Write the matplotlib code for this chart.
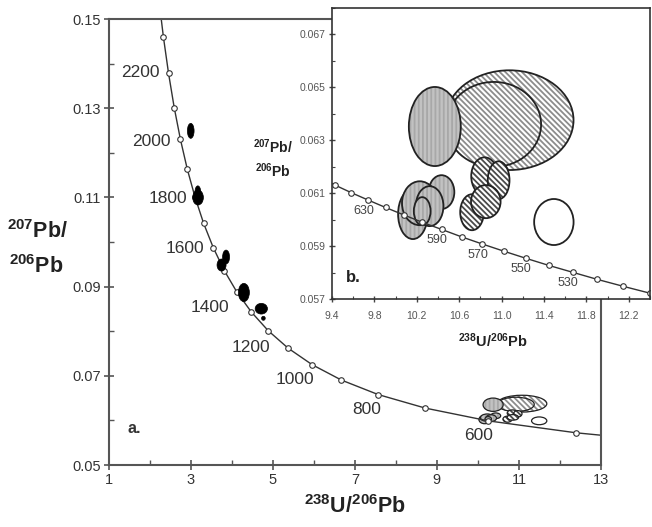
import numpy as np
import matplotlib

matplotlib.use("Agg")
import matplotlib.pyplot as plt
from matplotlib.patches import Ellipse
from matplotlib.ticker import FormatStrFormatter

plt.rcParams["font.family"] = ["Liberation Sans", "DejaVu Sans"]
plt.rcParams["mathtext.fontset"] = "custom"
plt.rcParams["mathtext.rm"] = "Liberation Sans"
plt.rcParams["mathtext.bf"] = "Liberation Sans:bold"
plt.rcParams["hatch.linewidth"] = 1.3

# concordia points (100 Ma steps)
main_ages = [450, 500, 600, 700, 800, 900, 1000, 1100, 1200, 1300, 1400,
             1500, 1600, 1700, 1800, 1900, 2000, 2100, 2200, 2300, 2400]
main_x = [13.831, 12.399, 10.252, 8.718, 7.568, 6.674, 5.959, 5.375, 4.888,
          4.476, 4.123, 3.817, 3.550, 3.314, 3.105, 2.917, 2.749, 2.597,
          2.459, 2.333, 2.217]
main_y = [0.05594, 0.05722, 0.05990, 0.06276, 0.06580, 0.06904, 0.07250,
          0.07619, 0.08012, 0.08432, 0.08881, 0.09360, 0.09872, 0.10419,
          0.11004, 0.11629, 0.12299, 0.13015, 0.13782, 0.14603, 0.15483]
main_label_ages = [600, 800, 1000, 1200, 1400, 1600, 1800, 2000, 2200]

# concordia points in the inset (10 Ma steps)
inset_ages = [490, 500, 510, 520, 530, 540, 550, 560, 570, 580, 590, 600,
              610, 620, 630, 640, 650, 660]
inset_x = [12.662, 12.399, 12.147, 11.904, 11.670, 11.445, 11.228, 11.019,
           10.817, 10.622, 10.434, 10.252, 10.076, 9.905, 9.741, 9.581,
           9.426, 9.276]
inset_y = [0.05696, 0.05722, 0.05748, 0.05774, 0.05801, 0.05827, 0.05854,
           0.05881, 0.05908, 0.05935, 0.05963, 0.05990, 0.06018, 0.06046,
           0.06074, 0.06102, 0.06131, 0.06159]
inset_label_ages = [630, 590, 570, 550, 530]

# old (black) analyses
old_x = [3.000, 3.178, 3.173, 3.751, 3.861, 4.295, 4.720, 4.771]
old_y = [0.12493, 0.10998, 0.11121, 0.09484, 0.09664, 0.08868, 0.08505, 0.0829]
old_w = [0.163, 0.26, 0.14, 0.22, 0.17, 0.268, 0.30, 0.09]
old_h = [0.00336, 0.00336, 0.00276, 0.0027, 0.0031, 0.0041, 0.0024, 0.0009]

# young analyses (shown in both panels)
young_x = [11.074, 10.926, 10.370, 10.839, 10.972, 10.721, 10.851,
           10.163, 10.433, 10.228, 10.321, 10.251, 11.493]
young_y = [0.06376, 0.06360, 0.06352, 0.06164, 0.06149, 0.06028, 0.06068,
           0.06021, 0.06104, 0.06062, 0.06051, 0.06032, 0.05991]
young_w = [1.209, 0.893, 0.490, 0.251, 0.205, 0.223, 0.279,
           0.279, 0.242, 0.335, 0.260, 0.158, 0.372]
young_h = [0.00377, 0.00321, 0.00299, 0.00143, 0.00143, 0.00136, 0.00125,
           0.00189, 0.00128, 0.00166, 0.00151, 0.00106, 0.00174]
young_type = ["light", "light", "grey", "dark", "dark", "dark", "dark",
              "grey", "grey", "grey", "grey", "grey", "open"]

main_offsets = {600: (-10, 15), 800: (-11, 15), 1000: (-17, 15),
                1200: (-17, 17), 1400: (-27, 16), 1600: (-28, 1),
                1800: (-27, 1), 2000: (-29, 2), 2200: (-28, -1)}


def draw_young(ax, lw):
    for x, y, w, h, t in zip(young_x, young_y, young_w, young_h, young_type):
        if t == "light":
            ax.add_patch(Ellipse((x, y), w, h, facecolor="white",
                                 edgecolor="#8c8c8c", hatch="\\" * 6, lw=0))
        elif t == "dark":
            ax.add_patch(Ellipse((x, y), w, h, facecolor="white",
                                 edgecolor="#4a4a4a", hatch="\\" * 6, lw=0))
        elif t == "grey":
            ax.add_patch(Ellipse((x, y), w, h, facecolor="#c2c2c2",
                                 edgecolor="#a8a8a8", hatch="||||", lw=0))
        else:
            ax.add_patch(Ellipse((x, y), w, h, facecolor="white", lw=0))
        ax.add_patch(Ellipse((x, y), w, h, fill=False, edgecolor="#222222",
                             lw=lw))


fig = plt.figure(figsize=(6.52, 5.27), dpi=100)

# ---- main panel
ax = fig.add_axes([0.1667, 0.1176, 0.7551, 0.8463])
ax.set_xlim(1, 13)
ax.set_ylim(0.05, 0.15)
ax.plot(main_x, main_y, color="#333333", lw=1.0, marker="o", ms=4,
        mfc="white", mec="#333333", mew=0.8, zorder=2)
for age in main_label_ages:
    i = main_ages.index(age)
    dx, dy = main_offsets[age]
    ax.annotate(str(age), (main_x[i], main_y[i]), xytext=(dx, -dy),
                textcoords="offset pixels", ha="center", va="center",
                fontsize=12.5, color="#333333")
for x, y, w, h in zip(old_x, old_y, old_w, old_h):
    ax.add_patch(Ellipse((x, y), w, h, facecolor="black", edgecolor="black",
                         lw=0.5, zorder=3))
draw_young(ax, 0.9)
ax.text(1.45, 0.0583, "a.", fontsize=11.5, fontweight="bold", va="center",
        color="#333333")

ax.set_xticks(np.arange(1, 14, 2))
ax.set_xticks(np.arange(2, 13, 2), minor=True)
ax.set_yticks(np.arange(0.05, 0.151, 0.02))
ax.set_yticks(np.arange(0.06, 0.141, 0.02), minor=True)
ax.yaxis.set_major_formatter(FormatStrFormatter("%.2f"))
ax.tick_params(which="major", direction="inout", length=7, width=1.2,
               labelsize=10.5, labelcolor="#333333", color="#555555", pad=2)
ax.tick_params(which="minor", direction="in", length=3.5, width=1.0,
               color="#555555")
for s in ax.spines.values():
    s.set_color("#555555")
    s.set_linewidth(1.5)

fig.text(0.057, 0.5484, r"$\mathbf{{}^{207}Pb/}$", fontsize=15.5,
         ha="center", va="baseline", color="#222222")
fig.text(0.055, 0.482, r"$\mathbf{{}^{206}Pb}$", fontsize=15.5,
         ha="center", va="baseline", color="#222222")
fig.text(0.5445, 0.027, r"$\mathbf{{}^{238}U/{}^{206}Pb}$", fontsize=15.5,
         ha="center", va="baseline", color="#222222")

# ---- inset
ax2 = fig.add_axes([332 / 652, 228 / 527, 318 / 652, 291 / 527])
ax2.set_facecolor("white")
ax2.set_xlim(9.4, 12.4)
ax2.set_ylim(0.057, 0.068)
ax2.plot(inset_x, inset_y, color="#333333", lw=1.0, marker="o", ms=4,
         mfc="white", mec="#333333", mew=0.8, zorder=2)
for age in inset_label_ages:
    i = inset_ages.index(age)
    ax2.annotate(str(age), (inset_x[i], inset_y[i]), xytext=(-4.5, -11),
                 textcoords="offset pixels", ha="center", va="center",
                 fontsize=9, color="#444444")
draw_young(ax2, 1.3)
ax2.text(9.535, 0.0578, "b.", fontsize=12, fontweight="bold", va="center",
         color="#222222")

ax2.set_xticks(np.arange(9.4, 12.3, 0.4))
ax2.set_xticks(np.arange(9.6, 12.4, 0.4), minor=True)
ax2.set_yticks(np.arange(0.057, 0.0675, 0.002))
ax2.set_yticks(np.arange(0.058, 0.0685, 0.002), minor=True)
ax2.xaxis.set_major_formatter(FormatStrFormatter("%.1f"))
ax2.yaxis.set_major_formatter(FormatStrFormatter("%.3f"))
ax2.tick_params(which="major", direction="inout", length=5, width=1.0,
                labelsize=7.5, labelcolor="#555555", color="#444444", pad=2)
ax2.tick_params(axis="x", which="major", pad=6)
ax2.tick_params(which="minor", direction="in", length=2.5, width=0.8,
                color="#444444")
for s in ax2.spines.values():
    s.set_color("#333333")
    s.set_linewidth(1.2)

fig.text(273.5 / 652, 1 - 153 / 527, r"$\mathbf{{}^{207}Pb/}$", fontsize=10,
         ha="center", va="baseline", color="#222222")
fig.text(273 / 652, 1 - 177 / 527, r"$\mathbf{{}^{206}Pb}$", fontsize=10,
         ha="center", va="baseline", color="#222222")
fig.text(493 / 652, 1 - 347 / 527, r"$\mathbf{{}^{238}U/{}^{206}Pb}$",
         fontsize=10.5, ha="center", va="baseline", color="#222222")

fig.savefig("out.png", dpi=100)
plt.close(fig)
